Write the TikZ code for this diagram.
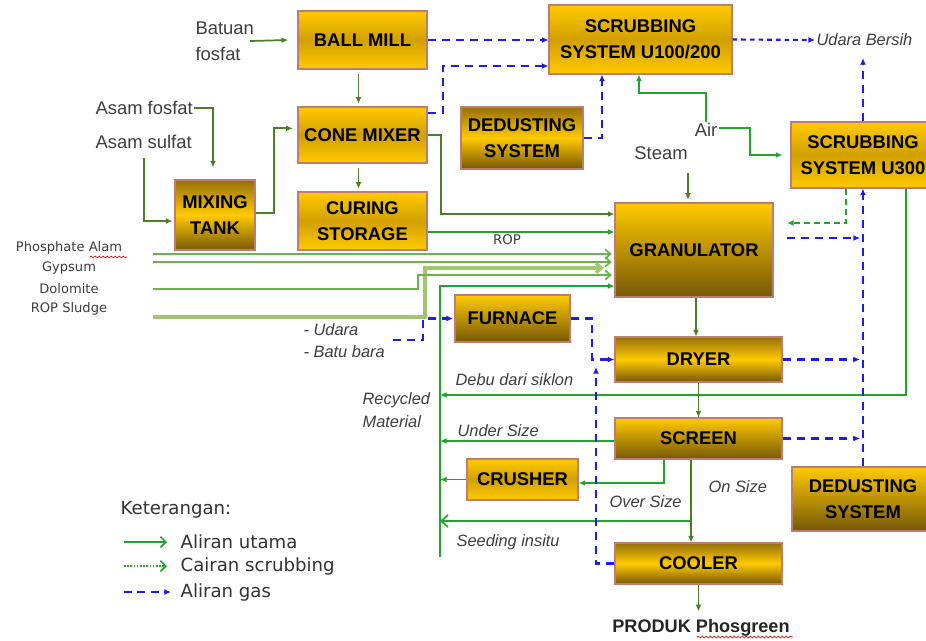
\documentclass[tikz,border=0pt]{standalone}
\usepackage{fontspec}
\setmainfont{Liberation Sans}
\newfontfamily\dvs{DejaVu Sans}
\usetikzlibrary{arrows.meta,decorations.pathmorphing}
\definecolor{gold}{RGB}{255,202,0}
\definecolor{goldmid}{RGB}{210,160,0}
\definecolor{browntop}{RGB}{150,112,10}
\definecolor{brownd}{RGB}{118,88,8}
\definecolor{boxedge}{RGB}{190,125,115}
\definecolor{dgreen}{RGB}{76,128,40}
\definecolor{bgreen}{RGB}{34,165,44}
\definecolor{lgreen}{RGB}{104,182,72}
\definecolor{sludgec}{RGB}{165,196,112}
\definecolor{gasblue}{RGB}{28,28,238}
\definecolor{txtgray}{RGB}{62,62,62}
\begin{document}
\begin{tikzpicture}[x=0.75pt,y=-0.75pt,
  pbox/.style={draw=boxedge, line width=0.8pt, align=center, inner sep=0pt, text=black,
    font=\bfseries\fontsize{13.8}{19.2}\selectfont},
  boxA/.style={pbox, top color=gold, bottom color=gold, middle color=goldmid},
  boxB/.style={pbox, top color=browntop, bottom color=brownd, middle color=gold},
  boxC/.style={pbox, top color=gold, bottom color=brownd},
  lbl/.style={text=txtgray, inner sep=1pt, font=\fontsize{13.8}{19.5}\selectfont},
  itl/.style={text=txtgray, inner sep=1pt, font=\itshape\fontsize{12.3}{17}\selectfont},
  dvl/.style={text=txtgray, inner sep=1pt, font=\dvs\fontsize{9.8}{12}\selectfont},
  dvleg/.style={text=black!80, inner sep=1pt, font=\dvs\fontsize{13.6}{16}\selectfont},
  dm/.style={draw=dgreen, line width=1.3pt, -{Latex[length=5pt,width=4.5pt]}},
  bm/.style={draw=bgreen, line width=1.3pt, -{Latex[length=5pt,width=4.5pt]}},
  lm/.style={draw=lgreen, line width=1.3pt, shorten >=2pt, -{Straight Barb[length=4pt,width=7pt]}},
  gas/.style={draw=gasblue, line width=1.7pt, dash pattern=on 6pt off 4.5pt, -{Latex[length=5pt,width=4.5pt]}},
  gasfine/.style={draw=gasblue, line width=1.6pt, dash pattern=on 3.5pt off 3pt, -{Latex[length=5pt,width=4.5pt]}},
  liq/.style={draw=bgreen, line width=1.4pt, dash pattern=on 4.5pt off 3pt, -{Latex[length=5pt,width=4.5pt]}},
  squig/.style={draw=red, line width=0.5pt, decorate, decoration={snake, amplitude=0.7pt, segment length=3pt}}
]
\fill[white] (0,0) rectangle (926,640);
\useasboundingbox (0,0) rectangle (926,640);

% ---------- boxes ----------
\node[boxA, minimum width=96.75pt, minimum height=43.5pt] (ballmill) at (362.5,40) {BALL MILL};
\node[boxA, minimum width=137.25pt, minimum height=51.75pt] (scrub1) at (640.5,39.5) {SCRUBBING\\SYSTEM U100/200};
\node[boxA, minimum width=96.75pt, minimum height=42pt] (cone) at (362.5,135) {CONE MIXER};
\node[boxA, minimum width=96.75pt, minimum height=43.5pt] (curing) at (362.5,221) {CURING\\STORAGE};
\node[boxB, minimum width=60pt, minimum height=52.5pt] (mixing) at (215,215) {MIXING\\TANK};
\node[boxB, minimum width=91.5pt, minimum height=46.5pt] (dedust1) at (522,138) {DEDUSTING\\SYSTEM};
\node[boxA, minimum width=108pt, minimum height=49.5pt] (scrub3) at (863,155) {SCRUBBING\\SYSTEM U300};
\node[boxC, minimum width=118.5pt, minimum height=70.5pt] (gran) at (694,250) {GRANULATOR};
\node[boxC, minimum width=86.25pt, minimum height=35.25pt] (furnace) at (512.5,318.5) {FURNACE};
\node[boxB, minimum width=125.25pt, minimum height=33.75pt] (dryer) at (698.5,359.5) {DRYER};
\node[boxC, minimum width=125.25pt, minimum height=30.75pt] (screen) at (698.5,438.5) {SCREEN};
\node[boxA, minimum width=83.25pt, minimum height=30.75pt] (crusher) at (522.5,479.5) {CRUSHER};
\node[boxC, minimum width=106.5pt, minimum height=48pt] (dedust2) at (863,499) {DEDUSTING\\SYSTEM};
\node[boxB, minimum width=125.25pt, minimum height=30.75pt] (cooler) at (698.5,563.5) {COOLER};

% ---------- labels ----------
\node[lbl, anchor=west, align=left] (batuan) at (194,41) {Batuan\\fosfat};
\node[lbl, anchor=west] (asamf) at (94,108) {Asam fosfat};
\node[lbl, anchor=west] (asams) at (94,142) {Asam sulfat};
\node[lbl] (steam) at (661,153) {Steam};
\node[lbl] (air) at (706,130) {Air};
\node[itl, anchor=west] (udara) at (815,40) {Udara Bersih};
\node[dvl, font=\dvs\fontsize{10}{12}\selectfont] (rop) at (507,240) {ROP};
\node[dvl] (phos) at (69,248) {Phosphate Alam};
\node[dvl] (gyp) at (69,268) {Gypsum};
\node[dvl] (dolo) at (69,289) {Dolomite};
\node[dvl] (sludge) at (69,309) {ROP Sludge};
\node[itl, anchor=west, align=left, font=\itshape\fontsize{12.3}{16.5}\selectfont] (udarab) at (302,341) {- Udara\\- Batu bara};
\node[itl, anchor=west] (debu) at (454,380) {Debu dari siklon};
\node[itl, anchor=west, align=left] (recyc) at (361,410) {Recycled\\Material};
\node[itl, anchor=west] (under) at (456,431) {Under Size};
\node[itl, anchor=west] (over) at (608,502) {Over Size};
\node[itl, anchor=west] (onsz) at (707,487) {On Size};
\node[itl, anchor=west] (seed) at (455,542) {Seeding insitu};
\node[inner sep=1pt, font=\bfseries\fontsize{13.6}{16}\selectfont, text=black!85] (produk) at (701,628) {PRODUK Phosgreen};

% ---------- main flow ----------
\draw[dm] ([xshift=-4pt]batuan.east) -- ([xshift=-7pt]ballmill.west);
\draw[dm, shorten <=3pt, shorten >=2pt] ([xshift=-3pt]ballmill.south) -- ([xshift=-3pt]cone.north);
\draw[dm, shorten <=3pt, shorten >=2pt] ([xshift=-3pt]cone.south) -- ([xshift=-3pt]curing.north);
\draw[dm] (asamf.east) -| ([xshift=-1.5pt,yshift=9pt]mixing.north);
\draw[dm, shorten <=6pt] (asams.south) |- ([yshift=-4.5pt,xshift=-1.5pt]mixing.west);
\coordinate (mx1) at (274,170);
\draw[dm] ([yshift=1.5pt]mixing.east) -| (mx1) |- ([yshift=5pt,xshift=-3.5pt]cone.west);
\coordinate (cn1) at (441,180);
\draw[dm] (cone.east) -| (cn1) |- ([yshift=27pt]gran.west);
\coordinate (r1) at ([yshift=-8.25pt]curing.east);
\draw[bm] (r1) -- (r1 -| gran.west);

% raw material inputs
\coordinate (in1) at (153,254);
\coordinate (in2) at (153,262);
\coordinate (in3) at (153,289);
\coordinate (in4) at (153,317);
\coordinate (k3) at (418,275);
\coordinate (k4) at (425,268);
\draw[draw=sludgec, line width=2.4pt, shorten >=8pt, -{Straight Barb[length=4pt,width=7pt]}] (in4) -| (k4) -- (k4 -| gran.west);
\draw[lm] (in3) -| (k3) -- (k3 -| gran.west);
\draw[lm] (in2) -- (in2 -| gran.west);
\draw[lm] (in1) -- (in1 -| gran.west);

% recycle line
\coordinate (rb) at (440,557);
\coordinate (d1) at (440,395);
\coordinate (d2) at (440,441);
\coordinate (d3) at (440,479.5);
\coordinate (d4) at (440,521);
\coordinate (s1) at (691,521);
\draw[bm] (rb) |- ([yshift=-27pt]gran.west);
\draw[bm] ([xshift=32.25pt]scrub3.south) |- (d1);
\draw[bm] ([yshift=-1.9pt]screen.west) -- (d2);
\draw[bm] (crusher.west) -- (d3);
\draw[bm, -{Straight Barb[length=5pt,width=9pt]}] (s1) -- (d4);

\draw[bm] ([xshift=-25.9pt]screen.south) |- ([yshift=-2.6pt]crusher.east);
\draw[dm] ([xshift=-5.6pt]screen.south) -- ([xshift=-5.6pt]cooler.north);
\draw[dm] ([xshift=1.5pt]gran.south) -- ([xshift=1.5pt]gran.south |- dryer.north);
\draw[dm] (dryer.south) -- (screen.north);
\coordinate (pk) at ([yshift=5pt]produk.north);
\draw[dm] (cooler.south) -- (cooler.south |- pk);

% air and steam
\coordinate (c1) at (639,93);
\draw[bm] (air.north) |- (c1) -- (c1 |- scrub1.south);
\coordinate (c2) at (750,140);
\draw[bm] ([yshift=1.5pt]air.east) -| (c2) |- ([xshift=-6pt]scrub3.west);
\coordinate (st) at (688,173);
\draw[dm, shorten >=2pt] (st) -- (st |- gran.north);

% ---------- gas ----------
\draw[gas] (ballmill.east) -- (ballmill.east -| scrub1.west);
\coordinate (g1) at (443,66);
\draw[gas] ([yshift=16.5pt]cone.east) -| (g1) -- (g1 -| scrub1.west);
\draw[gas] (dedust1.east) -| ([xshift=-28.9pt]scrub1.south);
\draw[gasfine] (scrub1.east) -- (udara.west);
\coordinate (ub) at (863,58);
\draw[gas] (scrub3.north) -- (ub);
\draw[gas] (dedust2.north) -- (scrub3.south);
\coordinate (v1) at (860,238);
\draw[gas, shorten <=10pt] ([yshift=9pt]gran.east) -- (v1);
\draw[gas] (dryer.east) -- (dryer.east -| v1);
\draw[gas] (screen.east) -- (screen.east -| v1);
\coordinate (lq) at (787,223);
\draw[liq] ([xshift=-12.75pt]scrub3.south) |- (lq);

\coordinate (ud) at (393,340);
\coordinate (f1) at (423,318.5);
\draw[gas] (ud) -| (f1) -- ([xshift=-1pt]furnace.west);
\coordinate (f2) at (592,359.5);
\draw[gas] (furnace.east) -| (f2) -- (dryer.west);
\coordinate (f3) at (596,367);
\draw[gas] (cooler.west) -| (f3);

% ---------- legend ----------
\node[dvleg, anchor=west] (ket) at (119,510) {Keterangan:};
\node[dvleg, anchor=west] (leg1) at (179,542) {Aliran utama};
\node[dvleg, anchor=west] (leg2) at (179,566) {Cairan scrubbing};
\node[dvleg, anchor=west] (leg3) at (179,592) {Aliran gas};
\coordinate (l1a) at (124,542); \coordinate (l1b) at (167,542);
\coordinate (l2a) at (124,566); \coordinate (l2b) at (167,566);
\coordinate (l3a) at (124,592); \coordinate (l3b) at (171,592);
\draw[draw=bgreen, line width=1.3pt, -{Straight Barb[length=4pt,width=8pt]}] (l1a) -- (l1b);
\draw[draw=bgreen, line width=1.2pt, dash pattern=on 1.2pt off 1.2pt, -{Straight Barb[length=4pt,width=8pt]}] (l2a) -- (l2b);
\draw[draw=gasblue, line width=1.7pt, dash pattern=on 6pt off 4pt, -{Latex[length=5pt,width=4.5pt]}] (l3a) -- (l3b);

% spell-check squiggles
\coordinate (q1) at (90,257); \coordinate (q2) at (127,257);
\coordinate (q3) at (697,637); \coordinate (q4) at (793,637);
\draw[squig] (q1) -- (q2);
\draw[squig] (q3) -- (q4);
\end{tikzpicture}
\end{document}
